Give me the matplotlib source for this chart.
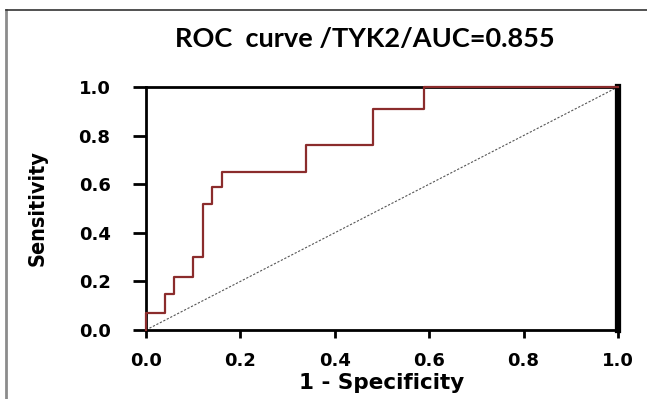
import numpy as np
import matplotlib
matplotlib.use("Agg")
import matplotlib.pyplot as plt
from matplotlib.lines import Line2D

# ROC step points (1 - specificity, sensitivity)
fpr = [0.0, 0.0, 0.04, 0.06, 0.10, 0.12, 0.14, 0.16, 0.34, 0.48, 0.59, 1.0]
tpr = [0.0, 0.07, 0.15, 0.22, 0.30, 0.52, 0.59, 0.65, 0.76, 0.91, 1.0, 1.0]
ticks = [0.0, 0.2, 0.4, 0.6, 0.8, 1.0]
tick_labels = ["0.0", "0.2", "0.4", "0.6", "0.8", "1.0"]
title = "ROC  curve /TYK2/AUC=0.855"

fig = plt.figure(figsize=(6.47, 3.99), dpi=100)
ax = fig.add_axes([0.2257, 0.173, 0.7293, 0.609])

# reference diagonal
ax.plot([0, 1], [0, 1], ls=(0, (2, 1.5)), color="#555555", lw=0.8, zorder=2)
ax.step(fpr, tpr, where="post", color="#8b2c2c", lw=1.6, zorder=3, clip_on=False)

ax.set_xlim(0, 1)
ax.set_ylim(0, 1)
ax.set_xticks(ticks)
ax.set_yticks(ticks)
ax.set_xticklabels(tick_labels, fontsize=13, fontweight="bold", family="DejaVu Sans")
ax.set_yticklabels(tick_labels, fontsize=13, fontweight="bold", family="DejaVu Sans")
ax.tick_params(axis="y", length=9.5, width=2, pad=16, direction="out")
ax.tick_params(axis="x", length=6, width=2, pad=10, direction="out")

for s in ["left", "bottom", "top"]:
    ax.spines[s].set_linewidth(2.0)
    ax.spines[s].set_color("black")
ax.spines["right"].set_linewidth(4.5)
ax.spines["right"].set_color("black")

ax.set_xlabel("1 - Specificity", fontsize=15.5, fontweight="bold", family="DejaVu Sans", labelpad=2)
ax.set_ylabel("Sensitivity", fontsize=15.5, fontweight="bold", fontstretch="condensed",
              family=["Liberation Sans Narrow", "DejaVu Sans"], labelpad=22)

fig.text(0.564, 0.902, title, fontsize=19.5, fontweight="bold", family=["Lato", "DejaVu Sans"],
         ha="center", va="center")

# picture frame (left and top edges)
fig.add_artist(Line2D([0.0100, 0.0100], [0, 0.975], transform=fig.transFigure,
                      color="#8c8c8c", lw=2.0))
fig.add_artist(Line2D([0.0100, 1.0], [0.975, 0.975], transform=fig.transFigure,
                      color="#333333", lw=1.2))

fig.savefig("out.png", dpi=100)
